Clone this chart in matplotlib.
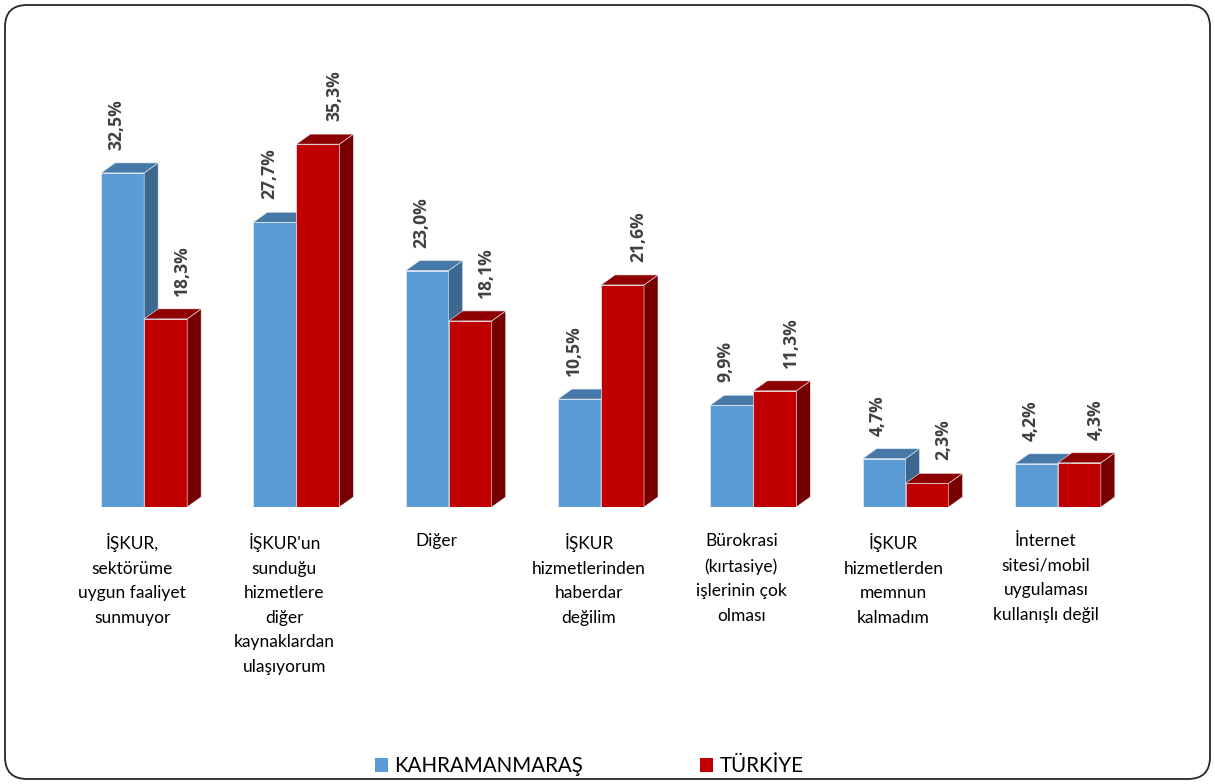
"""
3D-look clustered bar chart: reasons for not using ISKUR services,
Kahramanmaras vs Turkiye. Faces are drawn as polygons on top of ax.bar.
"""
import matplotlib
matplotlib.use("Agg")
import matplotlib.pyplot as plt
from matplotlib.patches import Polygon, FancyBboxPatch, Rectangle

plt.rcParams['font.family'] = ['Lato', 'DejaVu Sans']

categories = [
    'İŞKUR,\nsektörüme\nuygun faaliyet\nsunmuyor',
    "İŞKUR'un\nsunduğu\nhizmetlere\ndiğer\nkaynaklardan\nulaşıyorum",
    'Diğer',
    'İŞKUR\nhizmetlerinden\nhaberdar\ndeğilim',
    'Bürokrasi\n(kırtasiye)\nişlerinin çok\nolması',
    'İŞKUR\nhizmetlerden\nmemnun\nkalmadım',
    'İnternet\nsitesi/mobil\nuygulaması\nkullanışlı değil',
]
kahramanmaras = [32.5, 27.7, 23.0, 10.5, 9.9, 4.7, 4.2]
turkiye = [18.3, 35.3, 18.1, 21.6, 11.3, 2.3, 4.3]
series_names = ['KAHRAMANMARAŞ', 'TÜRKİYE']

# colours: front, top, side
blue = ('#5B9BD5', '#4678A8', '#3C6890')
red = ('#C00000', '#8E0000', '#780000')

W, H = 1215, 784
fig = plt.figure(figsize=(W / 100, H / 100), dpi=100)

# rounded outer frame
frame = FancyBboxPatch((0.05, 0.05), W / 100 - 0.10, H / 100 - 0.10,
                       boxstyle='round,pad=0,rounding_size=0.22',
                       transform=fig.dpi_scale_trans, facecolor='none',
                       edgecolor='#262626', linewidth=1.3, zorder=-1)
fig.patches.append(frame)

ax_l, ax_r, ax_b, ax_t = 68, 1134, 507, 107   # axes box in pixels
ax = fig.add_axes([ax_l / W, 1 - ax_b / H, (ax_r - ax_l) / W, (ax_b - ax_t) / H])
ax.set_xlim(-0.5, len(categories) - 0.5)
ymax = (ax_b - ax_t) / 10.28
ax.set_ylim(0, ymax)
ax.axis('off')

px_x = len(categories) / (ax_r - ax_l)
px_y = ymax / (ax_b - ax_t)
dx, dy = 14 * px_x, 10 * px_y
bw = 43 * px_x


def draw_series(vals, offset, cols, z, lab_dx):
    xs = [i + offset for i in range(len(vals))]
    ax.bar(xs, vals, width=bw, color=cols[0], edgecolor='#e8eef5',
           linewidth=0.5, zorder=z)
    for x, v in zip(xs, vals):
        x0, x1 = x - bw / 2, x + bw / 2
        top = Polygon([(x0, v), (x1, v), (x1 + dx, v + dy), (x0 + dx, v + dy)],
                      closed=True, facecolor=cols[1], edgecolor='#e8eef5',
                      linewidth=0.4, zorder=z + 0.1, clip_on=False)
        side = Polygon([(x1, 0), (x1 + dx, dy), (x1 + dx, v + dy), (x1, v)],
                       closed=True, facecolor=cols[2], edgecolor='#e8eef5',
                       linewidth=0.4, zorder=z + 0.1, clip_on=False)
        ax.add_patch(side)
        ax.add_patch(top)
        ax.annotate(f'{v:.1f}'.replace('.', ',') + '%', xy=(x, v + dy),
                    xytext=(lab_dx, 13), textcoords='offset pixels',
                    rotation=90, ha='center', va='bottom', fontsize=12.6,
                    fontweight='bold', color='#404040', zorder=6,
                    family=['Open Sans', 'DejaVu Sans'])


draw_series(kahramanmaras, -bw / 2, blue, 2, -6)
draw_series(turkiye, bw / 2, red, 3, 16)

for i, lab in enumerate(categories):
    ax.text(i - 12 * px_x, -26 * px_y, lab, ha='center', va='top',
            fontsize=12.5, color='black', linespacing=1.66, clip_on=False)

handles = [Rectangle((0, 0), 1, 1, facecolor=blue[0]),
           Rectangle((0, 0), 1, 1, facecolor=red[0])]
fig.legend(handles, series_names, loc='center',
           bbox_to_anchor=(589 / W, 1 - 766 / H), ncol=2, frameon=False,
           fontsize=14.8, handlelength=0.65, handleheight=0.65,
           handletextpad=0.3, columnspacing=5.7)

fig.savefig('out.png', dpi=100)
